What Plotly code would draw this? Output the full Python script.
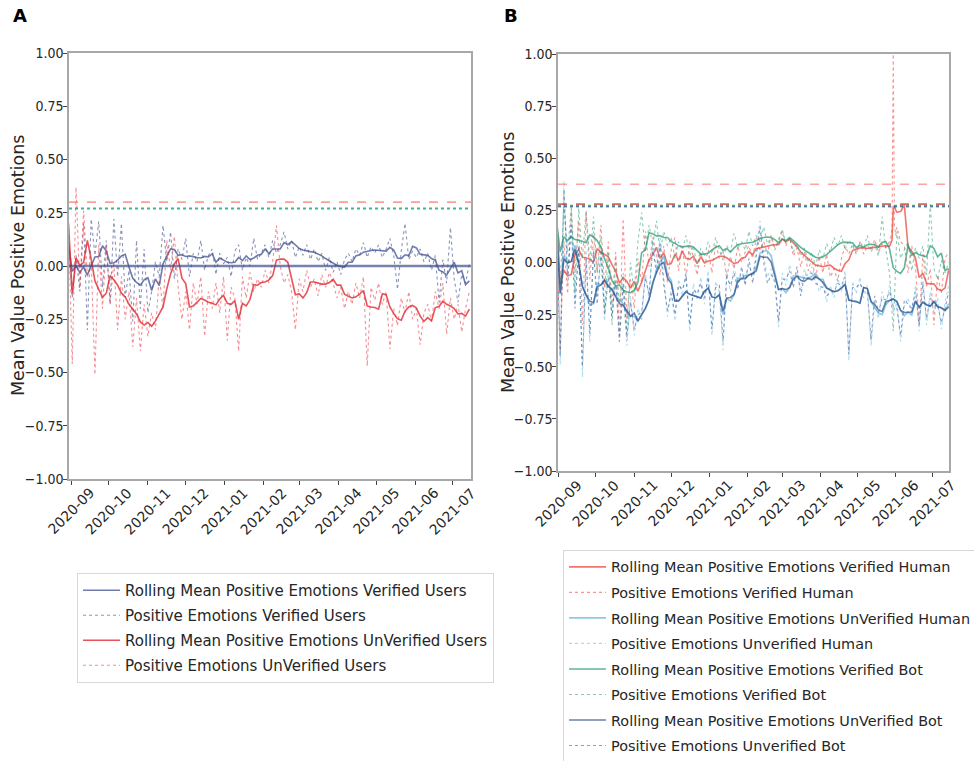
import pandas as pd
import plotly.graph_objects as go

START_DATE = "2020-08-30"
STEP = "3D"

# ---------------- Panel A (values every 3 days from START_DATE) ----------------
a_verified = [
    0.10, -0.15, 0.05, -0.12, 0.20, -0.30, 0.22, 0.05, 0.21, -0.10,
    0.12, -0.18, 0.22, -0.05, 0.20, -0.15, -0.02, -0.26, 0.12, -0.20,
    0.08, -0.22, -0.12, 0.02, -0.05, 0.19, 0.02, 0.16, -0.06, 0.08,
    0.03, 0.13, -0.05, 0.06, 0.02, 0.12, -0.02, 0.05, 0.08, -0.04,
    0.06, 0.01, 0.04, -0.05, 0.07, 0.10, -0.02, 0.04, 0.00, 0.13,
    0.03, 0.06, 0.10, 0.04, 0.12, 0.06, 0.10, 0.16, 0.08, 0.12,
    0.04, 0.09, 0.05, 0.10, 0.03, 0.08, 0.02, 0.06, -0.02, 0.04,
    -0.03, 0.02, -0.04, 0.03, 0.06, 0.02, 0.08, 0.05, 0.11, 0.04,
    0.09, 0.06, 0.10, 0.04, 0.08, 0.13, 0.05, -0.11, 0.07, 0.20,
    0.03, 0.07, 0.04, 0.08, 0.02, 0.06, -0.02, 0.05, -0.17, 0.03,
    -0.08, 0.18, -0.06, -0.17, -0.04, -0.08, 0.01,
]
a_unverified = [
    0.20, -0.46, 0.37, -0.10, 0.26, -0.05, 0.02, -0.51, 0.10, -0.20,
    0.10, -0.18, 0.02, -0.30, -0.05, -0.25, -0.12, -0.38, -0.15, -0.40,
    -0.18, -0.33, -0.22, -0.30, -0.05, -0.20, 0.12, -0.02, 0.14, -0.10,
    -0.25, -0.12, -0.30, -0.08, -0.18, -0.05, -0.33, -0.12, -0.20, -0.08,
    -0.22, -0.05, -0.35, -0.10, -0.15, -0.40, -0.05, -0.15, -0.03, -0.12,
    -0.06, -0.10, -0.02, -0.08, 0.02, 0.19, 0.00, -0.08, -0.04, -0.12,
    -0.30, -0.06, -0.12, -0.02, -0.10, -0.06, -0.14, -0.04, -0.10, -0.03,
    -0.08, -0.15, -0.10, -0.20, -0.12, -0.18, -0.08, -0.15, -0.05, -0.47,
    -0.10, -0.16, -0.08, -0.18, -0.12, -0.39, -0.20, -0.28, -0.15, -0.22,
    -0.12, -0.25, -0.20, -0.37, -0.22, -0.18, -0.26, -0.12, -0.20, -0.08,
    -0.32, -0.15, -0.25, -0.18, -0.31, -0.20, -0.12,
]

# ---------------- Panel B ----------------
b_verified_human = [
    0.22, -0.43, 0.10, -0.15, 0.25, -0.05, 0.20, -0.30, 0.24, -0.08,
    0.15, -0.05, 0.18, -0.12, 0.10, -0.20, 0.05, -0.35, 0.21, -0.27,
    -0.08, -0.22, 0.02, -0.10, 0.15, -0.02, 0.12, 0.04, -0.06, 0.08,
    -0.10, 0.06, 0.12, -0.04, 0.08, -0.08, 0.10, 0.02, -0.06, 0.05,
    -0.02, 0.06, -0.05, 0.09, 0.02, 0.06, -0.08, 0.03, -0.03, 0.08,
    0.00, 0.05, 0.08, 0.02, 0.12, 0.06, 0.10, 0.04, 0.13, 0.07,
    0.10, 0.15, 0.08, 0.12, 0.03, 0.07, -0.02, 0.05, -0.04, 0.02,
    -0.08, 0.03, -0.05, 0.04, -0.07, -0.03, -0.09, 0.02, 0.08, 0.04,
    0.09, 0.05, 0.10, 0.04, 0.08, 0.06, 0.11, 0.05, 0.09, 0.07,
    0.10, 1.00, 0.17, 0.10, 0.08, -0.05, 0.08, -0.02, -0.30, 0.04,
    -0.12, -0.03, -0.30, -0.06, -0.15, 0.02, 0.05,
]
b_vh_extra_dates = ["2021-05-28", "2021-05-29", "2021-05-31", "2021-06-01"]
b_vh_extra_values = [0.12, 0.16, 0.18, 0.13]

b_unverified_human = [
    0.20, -0.49, 0.39, -0.10, 0.22, -0.18, 0.05, -0.55, 0.06, -0.38,
    0.08, -0.16, 0.03, -0.28, -0.04, -0.22, -0.10, -0.35, -0.12, -0.40,
    -0.16, -0.35, -0.22, -0.28, -0.04, -0.18, 0.10, -0.02, 0.12, -0.08,
    -0.26, -0.12, -0.28, -0.08, -0.16, -0.04, -0.33, -0.10, -0.18, -0.07,
    -0.20, -0.04, -0.35, -0.09, -0.14, -0.42, -0.04, -0.14, -0.02, -0.10,
    -0.05, -0.08, -0.01, -0.07, 0.06, 0.20, 0.03, -0.07, -0.03, -0.11,
    -0.31, -0.05, -0.11, -0.01, -0.09, -0.05, -0.13, -0.03, -0.09, -0.02,
    -0.07, -0.14, -0.09, -0.19, -0.11, -0.17, -0.07, -0.14, -0.04, -0.47,
    -0.09, -0.15, -0.07, -0.17, -0.11, -0.40, -0.19, -0.27, -0.14, -0.21,
    -0.11, -0.24, -0.19, -0.38, -0.21, -0.17, -0.25, -0.11, -0.33, -0.07,
    -0.30, -0.14, -0.24, -0.17, -0.32, -0.19, -0.11,
]
b_verified_bot = [
    0.20, -0.10, 0.27, 0.05, 0.27, -0.15, 0.26, 0.02, 0.25, 0.00,
    0.22, -0.05, 0.12, -0.22, 0.05, -0.30, 0.02, -0.20, -0.05, -0.33,
    0.00, -0.15, 0.10, 0.24, 0.05, 0.18, 0.08, 0.20, 0.05, 0.15,
    0.08, 0.12, 0.02, 0.10, 0.06, 0.13, 0.03, 0.08, -0.02, 0.07,
    0.03, 0.10, 0.04, 0.12, 0.06, 0.01, 0.08, 0.05, 0.14, 0.07,
    0.10, 0.06, 0.15, 0.08, 0.13, 0.10, 0.17, 0.09, 0.12, 0.06,
    0.11, 0.16, 0.09, 0.12, 0.05, 0.09, 0.03, 0.07, 0.00, 0.05,
    -0.02, 0.06, 0.02, 0.09, 0.05, 0.12, 0.08, 0.13, 0.06, 0.11,
    0.08, 0.04, 0.10, 0.07, 0.13, 0.05, 0.09, 0.03, 0.22, 0.06,
    -0.05, -0.33, 0.15, 0.02, 0.06, 0.10, -0.04, 0.07, 0.02, 0.08,
    -0.06, 0.28, -0.03, -0.08, 0.01, -0.05, 0.00,
]
b_unverified_bot = [
    0.15, -0.45, 0.35, -0.06, 0.18, -0.22, 0.08, -0.50, 0.02, -0.34,
    0.05, -0.20, 0.06, -0.25, -0.07, -0.26, -0.08, -0.38, -0.10, -0.36,
    -0.19, -0.32, -0.25, -0.24, -0.07, -0.15, 0.07, -0.05, 0.09, -0.11,
    -0.23, -0.15, -0.25, -0.11, -0.13, -0.07, -0.30, -0.13, -0.15, -0.10,
    -0.17, -0.07, -0.32, -0.12, -0.11, -0.38, -0.07, -0.11, -0.05, -0.13,
    -0.02, -0.11, 0.02, -0.10, 0.03, 0.17, 0.00, -0.10, -0.06, -0.08,
    -0.28, -0.08, -0.08, -0.04, -0.12, -0.02, -0.16, -0.06, -0.06, -0.05,
    -0.10, -0.11, -0.12, -0.16, -0.14, -0.14, -0.10, -0.11, -0.07, -0.44,
    -0.12, -0.12, -0.10, -0.14, -0.14, -0.37, -0.16, -0.24, -0.17, -0.18,
    -0.14, -0.21, -0.22, -0.35, -0.18, -0.20, -0.22, -0.14, -0.30, -0.10,
    -0.27, -0.17, -0.21, -0.20, -0.29, -0.22, -0.14,
]

# reference levels (horizontal lines)
a_ref_levels = [0.30, 0.27, 0.00]
b_ref_levels = [0.375, 0.28, 0.272, 0.268]

month_ticks = ["2020-09-01", "2020-10-01", "2020-11-01", "2020-12-01", "2021-01-01",
               "2021-02-01", "2021-03-01", "2021-04-01", "2021-05-01", "2021-06-01",
               "2021-07-01"]
month_labels = ["2020-09", "2020-10", "2020-11", "2020-12", "2021-01", "2021-02",
                "2021-03", "2021-04", "2021-05", "2021-06", "2021-07"]
y_ticks = [-1.0, -0.75, -0.5, -0.25, 0.0, 0.25, 0.5, 0.75, 1.0]
y_labels = ["\u22121.00", "\u22120.75", "\u22120.50", "\u22120.25", "0.00",
            "0.25", "0.50", "0.75", "1.00"]


def series(values, extra_dates=None, extra_values=None):
    idx = pd.date_range(START_DATE, periods=len(values), freq=STEP)
    s = pd.Series(values, index=idx, dtype=float)
    if extra_dates:
        s = pd.concat([s, pd.Series(extra_values, index=pd.to_datetime(extra_dates), dtype=float)])
        s = s.sort_index()
    return s


def rolling(s):
    return s.rolling("10D", min_periods=1).mean()


COND = "DejaVu Sans Condensed, DejaVu Sans, sans-serif"
SANS = "DejaVu Sans, sans-serif"

fig = go.Figure()


def add_pair(s, roll_name, raw_name, roll_col, raw_col, xa, ya, legend):
    r = rolling(s)
    fig.add_trace(go.Scatter(x=r.index, y=r.values, mode="lines", name=roll_name,
                             legendgroup=roll_name,
                             line=dict(color=roll_col, width=1.6),
                             xaxis=xa, yaxis=ya, legend=legend))
    fig.add_trace(go.Scatter(x=s.index, y=s.values, mode="lines", name=raw_name,
                             legendgroup=raw_name,
                             line=dict(color=raw_col, width=1.1, dash="dot"),
                             xaxis=xa, yaxis=ya, legend=legend))


# Panel A
add_pair(series(a_verified), "Rolling Mean Positive Emotions Verified Users",
         "Positive Emotions Verified Users",
         "rgba(55,72,140,0.72)", "rgba(60,76,140,0.6)", "x", "y", "legend")
add_pair(series(a_unverified), "Rolling Mean Positive Emotions UnVerified Users",
         "Positive Emotions UnVerified Users",
         "rgba(222,25,35,0.75)", "rgba(235,50,60,0.55)", "x", "y", "legend")

# Panel B
add_pair(series(b_verified_human, b_vh_extra_dates, b_vh_extra_values),
         "Rolling Mean Positive Emotions Verified Human", "Positive Emotions Verified Human",
         "rgba(232,65,55,0.72)", "rgba(238,80,70,0.6)", "x2", "y2", "legend2")
add_pair(series(b_unverified_human),
         "Rolling Mean Positive Emotions UnVerified Human", "Positive Emotions Unverified Human",
         "rgba(90,180,215,0.7)", "rgba(100,190,225,0.55)", "x2", "y2", "legend2")
add_pair(series(b_verified_bot),
         "Rolling Mean Positive Emotions Verified Bot", "Positive Emotions Verified Bot",
         "rgba(30,150,110,0.7)", "rgba(40,160,120,0.55)", "x2", "y2", "legend2")
add_pair(series(b_unverified_bot),
         "Rolling Mean Positive Emotions UnVerified Bot", "Positive Emotions Unverified Bot",
         "rgba(45,75,140,0.7)", "rgba(45,75,140,0.55)", "x2", "y2", "legend2")

# horizontal reference lines
a_ref_styles = [dict(color="rgba(250,128,114,0.75)", width=1.6, dash="dash"),
                dict(color="rgba(30,165,125,0.85)", width=2.2, dash="dot"),
                dict(color="rgba(60,76,140,0.7)", width=2.6, dash="solid")]
for lvl, st in zip(a_ref_levels, a_ref_styles):
    fig.add_shape(type="line", xref="x domain", yref="y", x0=0, x1=1, y0=lvl, y1=lvl, line=st)
b_ref_styles = [dict(color="rgba(250,128,114,0.7)", width=1.6, dash="dash"),
                dict(color="rgba(225,55,55,0.8)", width=1.8, dash="dash"),
                dict(color="rgba(30,165,125,0.8)", width=2.0, dash="dot"),
                dict(color="rgba(45,75,140,0.6)", width=1.6, dash="dot")]
for lvl, st in zip(b_ref_levels, b_ref_styles):
    fig.add_shape(type="line", xref="x2 domain", yref="y2", x0=0, x1=1, y0=lvl, y1=lvl, line=st)

W, H = 974, 761

axis_common = dict(showline=True, mirror=True, linecolor="#a8a8a8", linewidth=1.5,
                   showgrid=False, zeroline=False, ticks="outside", ticklen=4,
                   tickcolor="#444", tickwidth=1)

yfont = dict(family=COND, size=14, color="#262626")
legfont = dict(family=SANS, size=15, color="#262626")
legfont_b = dict(family=SANS, size=14.4, color="#262626")

fig.update_layout(
    width=W, height=H,
    margin=dict(l=0, r=0, t=0, b=0, autoexpand=False),
    paper_bgcolor="white", plot_bgcolor="white",
    xaxis=dict(domain=[69 / W, 471 / W], anchor="y", type="date",
               range=["2020-08-30 10:00", "2021-07-15 08:00"],
               tickvals=month_ticks, showticklabels=False, **axis_common),
    yaxis=dict(domain=[1 - 479 / H, 1 - 53 / H], anchor="x", range=[-1, 1],
               tickvals=y_ticks, ticktext=y_labels, tickfont=yfont,
               ticklabelstandoff=-3, **axis_common),
    xaxis2=dict(domain=[558 / W, 949 / W], anchor="y2", type="date",
                range=["2020-08-31 05:00", "2021-07-14 05:00"],
                tickvals=month_ticks, showticklabels=False, **axis_common),
    yaxis2=dict(domain=[1 - 471 / H, 1 - 54 / H], anchor="x2", range=[-1, 1],
                tickvals=y_ticks, ticktext=y_labels, tickfont=yfont,
                ticklabelstandoff=-3, **axis_common),
    legend=dict(x=77 / W, y=1 - 573 / H, xanchor="left", yanchor="top",
                bgcolor="white", bordercolor="#d8d8d8", borderwidth=1,
                itemwidth=37, tracegroupgap=2.5, font=legfont),
    legend2=dict(x=563 / W, y=1 - 550 / H, xanchor="left", yanchor="top",
                 bgcolor="white", bordercolor="#d8d8d8", borderwidth=1,
                 itemwidth=37, tracegroupgap=3.8, font=legfont_b),
    showlegend=True,
)

annotations = [
    dict(text="<b>A</b>", x=20 / W, y=1 - 16 / H, xref="paper", yref="paper",
         xanchor="center", yanchor="middle", showarrow=False,
         font=dict(family=SANS, size=18, color="black")),
    dict(text="<b>B</b>", x=511 / W, y=1 - 16 / H, xref="paper", yref="paper",
         xanchor="center", yanchor="middle", showarrow=False,
         font=dict(family=SANS, size=18, color="black")),
    dict(text="Mean Value Positive Emotions", x=18 / W, y=1 - 266 / H, xref="paper",
         yref="paper", xanchor="center", yanchor="middle", showarrow=False, textangle=-90,
         font=dict(family=SANS, size=17.5, color="#262626")),
    dict(text="Mean Value Positive Emotions", x=508 / W, y=1 - 262 / H, xref="paper",
         yref="paper", xanchor="center", yanchor="middle", showarrow=False, textangle=-90,
         font=dict(family=SANS, size=17.5, color="#262626")),
]
# centred, rotated month labels (matplotlib style)
for xref, ypx in (("x", 511), ("x2", 503)):
    for tv, tl in zip(month_ticks, month_labels):
        annotations.append(dict(text=tl, x=tv, y=1 - ypx / H, xref=xref, yref="paper",
                                xanchor="center", yanchor="middle", showarrow=False,
                                textangle=-45,
                                font=dict(family=SANS, size=14, color="#262626")))
fig.update_layout(annotations=annotations)

fig.write_html("out.html")
